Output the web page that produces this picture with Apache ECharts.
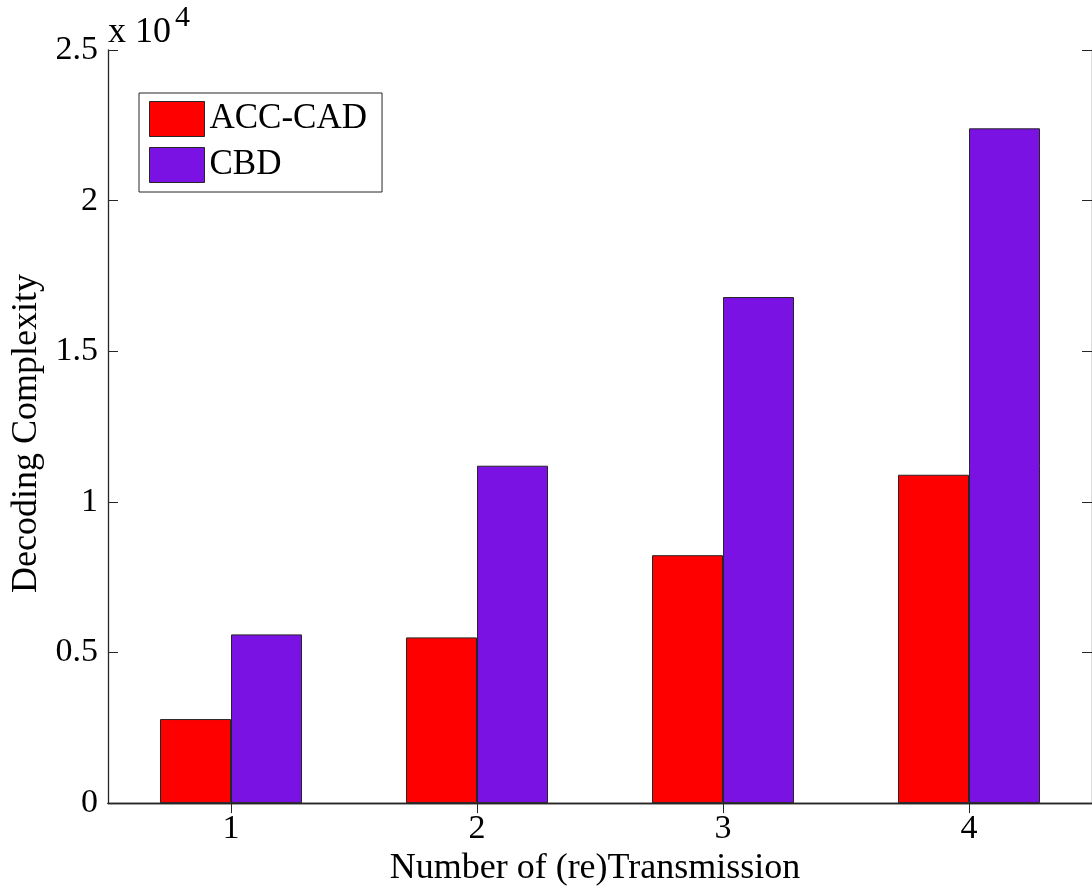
<!DOCTYPE html>
<html>
<head>
<meta charset="utf-8">
<script src="https://cdn.jsdelivr.net/npm/echarts@6/dist/echarts.min.js"></script>
<style>
html,body{margin:0;padding:0;background:#fff;}
#chart{width:1092px;height:892px;}
</style>
</head>
<body>
<div id="chart"></div>
<script>
var categories = ['1', '2', '3', '4'];
var accCad = [2790, 5500, 8230, 10900];
var cbd = [5600, 11200, 16800, 22400];
var yTicks = [0, 5000, 10000, 15000, 20000, 25000];
var seriesNames = ['ACC-CAD', 'CBD'];

var FONT = '"Liberation Serif", "Times New Roman", serif';
var AX = '#262626';
var chart = echarts.init(document.getElementById('chart'));
var option = {
  backgroundColor: '#ffffff',
  animation: false,
  textStyle: { fontFamily: FONT },
  grid: { left: 108, top: 50, width: 985, height: 755, containLabel: false },
  legend: {
    orient: 'vertical',
    left: 139, top: 93,
    data: seriesNames,
    itemWidth: 55, itemHeight: 35, itemGap: 10,
    padding: [8, 15, 9, 10],
    borderColor: AX, borderWidth: 1,
    backgroundColor: '#fff',
    icon: 'rect',
    textStyle: { fontFamily: FONT, fontSize: 35, color: '#000', padding: [0,0,0,0] },
    itemStyle: { borderColor: AX, borderWidth: 1 }
  },
  xAxis: [{
    type: 'category', data: categories, position: 'bottom',
    name: 'Number of (re)Transmission', nameLocation: 'middle', nameGap: 42,
    nameTextStyle: { fontFamily: FONT, fontSize: 36, color: '#000', padding: [0, 10, 0, 0] },
    axisLine: { lineStyle: { color: AX, width: 1.3 } },
    axisTick: { show: true, inside: true, alignWithLabel: true, length: 10, lineStyle: { color: AX } },
    axisLabel: { fontFamily: FONT, fontSize: 34, color: '#000', margin: 9 },
    splitLine: { show: false }
  }, {
    type: 'category', data: categories, position: 'top',
    axisLine: { lineStyle: { color: AX, width: 1.3 } },
    axisTick: { show: true, inside: true, alignWithLabel: true, length: 10, lineStyle: { color: AX } },
    axisLabel: { show: false },
    splitLine: { show: false }
  }],
  yAxis: [{
    type: 'value', min: 0, max: 25000, interval: 5000, position: 'left',
    name: 'Decoding Complexity', nameLocation: 'middle', nameGap: 62,
    nameTextStyle: { fontFamily: FONT, fontSize: 36, color: '#000', padding: [0, 14, 0, 0] },
    axisLine: { show: true, lineStyle: { color: AX, width: 1.3 } },
    axisTick: { show: true, inside: true, length: 10, lineStyle: { color: AX } },
    axisLabel: { fontFamily: FONT, fontSize: 34, color: '#000', margin: 10,
      formatter: function (v) { return yTicks.indexOf(v) >= 0 ? String(v / 10000) : ''; } },
    splitLine: { show: false }
  }, {
    type: 'value', min: 0, max: 25000, interval: 5000, position: 'right',
    axisLine: { show: true, lineStyle: { color: AX, width: 1.3 } },
    axisTick: { show: true, inside: true, length: 10, lineStyle: { color: AX } },
    axisLabel: { show: false },
    splitLine: { show: false }
  }],
  series: [{
    name: seriesNames[0], type: 'bar', data: accCad, xAxisIndex: 0, yAxisIndex: 0,
    barWidth: 71, barGap: '0%',
    itemStyle: { color: '#ff0000', borderColor: AX, borderWidth: 1 }
  }, {
    name: seriesNames[1], type: 'bar', data: cbd, xAxisIndex: 0, yAxisIndex: 0,
    barWidth: 71, barGap: '0%',
    itemStyle: { color: '#7a12e4', borderColor: AX, borderWidth: 1 }
  }],
  graphic: [{
    type: 'text', left: 108, top: 15,
    style: { text: 'x 10', font: '36px ' + FONT, fill: '#000' }
  }, {
    type: 'text', left: 175, top: 3,
    style: { text: '4', font: '30px ' + FONT, fill: '#000' }
  }]
};
chart.setOption(option);
</script>
</body>
</html>
